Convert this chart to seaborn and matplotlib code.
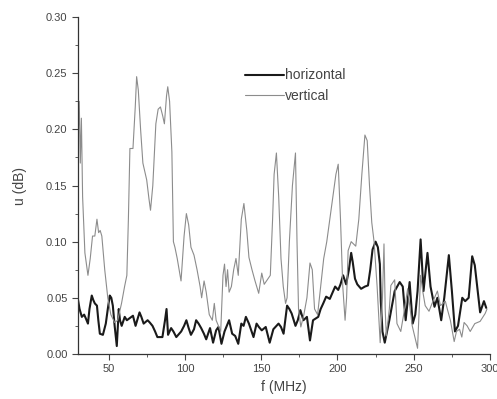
import matplotlib
matplotlib.use('Agg')
import matplotlib.pyplot as plt
from matplotlib.ticker import MultipleLocator, FormatStrFormatter
import seaborn as sns
import pandas as pd

# horizontal polarisation (black, thick)
freq_h = [30, 31, 32.5, 34, 35, 36.5, 37.5, 39, 40, 41, 42.4, 43.3, 44.3, 46.3, 48.2, 49.5,
          50.8, 51.8, 52.8, 54, 55.4, 56.7, 57.5, 58.6, 60.6, 62, 64, 66, 67.7, 70.3, 71.5,
          73, 75.6, 77, 78.8, 80.5, 82, 85.3, 87, 88, 89, 91, 92.5, 94.4, 97.6, 99.5, 101,
          102.5, 104, 106, 107.4, 109, 110.7, 112.5, 114, 116.5, 118.5, 120.5, 122, 124, 126,
          129, 131, 133, 135, 137, 138.5, 140, 142, 145, 147, 148.5, 150.4, 153, 155.6, 158,
          161.4, 163, 164.7, 167, 168.5, 170, 172.5, 174, 175.7, 177.7, 180, 182, 184, 187.4,
          189, 190.7, 192.6, 195, 198.5, 200.5, 202, 203.7, 205.7, 207.5, 209, 210, 211.5, 213,
          215.5, 218, 220, 221.5, 223, 225, 226.5, 227.8, 228.4, 229.5, 231, 232.5, 234, 236,
          237.5, 240.8, 242.8, 244.7, 247.3, 249.3, 251, 252.5, 254.5, 256.4, 259, 261, 263.6,
          265.5, 268, 270, 273, 275, 277, 279, 281.8, 283.7, 286, 288.3, 290, 293.5, 296, 297.5]
u_h = [0.048, 0.040, 0.033, 0.035, 0.032, 0.027, 0.040, 0.052, 0.048, 0.045, 0.043, 0.030,
       0.018, 0.017, 0.027, 0.040, 0.052, 0.050, 0.043, 0.025, 0.007, 0.040, 0.030, 0.025,
       0.033, 0.030, 0.032, 0.034, 0.025, 0.037, 0.033, 0.027, 0.030, 0.028, 0.025, 0.020,
       0.015, 0.015, 0.030, 0.040, 0.017, 0.023, 0.020, 0.015, 0.020, 0.025, 0.030, 0.023,
       0.017, 0.022, 0.030, 0.027, 0.023, 0.018, 0.013, 0.023, 0.010, 0.021, 0.024, 0.009,
       0.020, 0.030, 0.018, 0.016, 0.009, 0.027, 0.025, 0.033, 0.027, 0.015, 0.027, 0.024,
       0.021, 0.024, 0.010, 0.022, 0.027, 0.024, 0.018, 0.043, 0.040, 0.036, 0.025, 0.030,
       0.039, 0.030, 0.033, 0.012, 0.030, 0.033, 0.040, 0.045, 0.051, 0.049, 0.060, 0.057,
       0.062, 0.070, 0.062, 0.075, 0.090, 0.082, 0.067, 0.062, 0.058, 0.060, 0.061, 0.075,
       0.093, 0.100, 0.095, 0.080, 0.047, 0.020, 0.010, 0.020, 0.030, 0.045, 0.056, 0.064,
       0.060, 0.030, 0.064, 0.027, 0.035, 0.056, 0.102, 0.056, 0.090, 0.060, 0.042, 0.050,
       0.030, 0.050, 0.088, 0.056, 0.020, 0.025, 0.050, 0.047, 0.050, 0.087, 0.079, 0.037,
       0.047, 0.041]

# vertical polarisation (grey, thin)
freq_v = [30, 30.8, 31.5, 32.2, 33, 34.5, 36.5, 38, 39.5, 41, 42.4, 43.5, 44.5, 45.6, 47.5,
          49.5, 51.5, 54, 56, 58.5, 60.5, 62, 63, 64, 66, 67.5, 68.4, 69.5, 71, 72.5, 75,
          76.5, 77.5, 79, 81, 82.5, 84, 85.5, 86.6, 88, 88.8, 90, 91.5, 92.5, 93.5, 95, 97.5,
          99.5, 101, 102.5, 104, 106, 108, 110, 111, 112.6, 114, 116, 118, 119.3, 120.5, 122,
          123.5, 125, 126, 127, 128, 129, 130.5, 132, 133.5, 135, 137, 138.7, 140.6, 142, 144,
          146, 148.4, 150.4, 152, 153.5, 156, 157.5, 158.5, 160, 161.5, 163, 164.5, 166, 167,
          168.5, 170.5, 172.5, 173.5, 174.5, 176, 178, 180, 182, 183.5, 185, 187, 189, 191,
          193, 195, 197, 199, 200.5, 202, 203.5, 205, 206, 207, 209, 212, 214, 216, 218, 219.5,
          221, 222.5, 224, 226, 228, 229.5, 230.5, 231.3, 232, 234, 235, 237.5, 239, 241.5,
          244, 246, 249, 252.5, 254.5, 256, 257.5, 260, 262, 263.6, 265.5, 267.5, 270.7, 272,
          274, 276.5, 278, 280, 281.5, 283, 285, 287, 290, 293.5, 296.8, 298]
u_v = [0.190, 0.225, 0.170, 0.210, 0.140, 0.090, 0.070, 0.085, 0.105, 0.105, 0.120, 0.108,
       0.110, 0.105, 0.075, 0.050, 0.035, 0.028, 0.030, 0.045, 0.060, 0.070, 0.120, 0.183,
       0.183, 0.220, 0.247, 0.235, 0.200, 0.170, 0.155, 0.138, 0.128, 0.150, 0.205, 0.218,
       0.220, 0.212, 0.205, 0.230, 0.238, 0.225, 0.180, 0.100, 0.095, 0.085, 0.065, 0.105,
       0.125, 0.115, 0.095, 0.088, 0.075, 0.060, 0.050, 0.065, 0.055, 0.035, 0.030, 0.045,
       0.030, 0.025, 0.020, 0.070, 0.080, 0.060, 0.075, 0.055, 0.060, 0.075, 0.085, 0.070,
       0.120, 0.134, 0.110, 0.086, 0.075, 0.065, 0.054, 0.072, 0.062, 0.065, 0.070, 0.120,
       0.160, 0.179, 0.140, 0.085, 0.060, 0.045, 0.050, 0.100, 0.150, 0.179, 0.100, 0.040,
       0.024, 0.035, 0.050, 0.081, 0.075, 0.040, 0.035, 0.060, 0.085, 0.100, 0.120, 0.140,
       0.160, 0.169, 0.120, 0.060, 0.030, 0.050, 0.092, 0.100, 0.096, 0.120, 0.160, 0.195,
       0.190, 0.150, 0.117, 0.100, 0.060, 0.010, 0.050, 0.098, 0.040, 0.016, 0.040, 0.061,
       0.066, 0.027, 0.020, 0.040, 0.058, 0.025, 0.005, 0.070, 0.055, 0.043, 0.038, 0.045,
       0.050, 0.056, 0.043, 0.047, 0.040, 0.030, 0.011, 0.020, 0.022, 0.015, 0.028, 0.025,
       0.020, 0.027, 0.029, 0.036, 0.040]

df_h = pd.DataFrame({'f': freq_h, 'u': u_h})
df_v = pd.DataFrame({'f': freq_v, 'u': u_v})

sns.set_style('ticks')
plt.rcParams['font.family'] = ['Liberation Sans', 'DejaVu Sans']

fig = plt.figure(figsize=(4.97, 3.99), dpi=100)
ax = fig.add_axes([0.157, 0.113, 0.829, 0.844])

sns.lineplot(data=df_h, x='f', y='u', ax=ax, color='#1a1a1a', linewidth=1.5,
             estimator=None, sort=False, label='horizontal')
sns.lineplot(data=df_v, x='f', y='u', ax=ax, color='#8c8c8c', linewidth=0.8,
             estimator=None, sort=False, label='vertical')

ax.set_xlim(30, 300)
ax.set_ylim(0, 0.30)
ax.xaxis.set_major_locator(MultipleLocator(50))
ax.xaxis.set_minor_locator(MultipleLocator(25))
ax.yaxis.set_major_locator(MultipleLocator(0.05))
ax.yaxis.set_minor_locator(MultipleLocator(0.025))
ax.yaxis.set_major_formatter(FormatStrFormatter('%.2f'))
ax.tick_params(which='major', direction='out', length=4, width=0.8,
               labelsize=8, labelcolor='#444444', color='#444444')
ax.tick_params(which='minor', direction='out', length=2, width=0.6, color='#444444')
sns.despine(ax=ax)
for s in ['left', 'bottom']:
    ax.spines[s].set_color('#333333')
    ax.spines[s].set_linewidth(0.9)

ax.set_xlabel('f (MHz)', fontsize=10, color='#444444')
ax.set_ylabel('u (dB)', fontsize=10, color='#444444', labelpad=14)

ax.legend(loc='upper left', bbox_to_anchor=(0.375, 0.885), frameon=False, fontsize=10,
          handlelength=2.8, handletextpad=0.1, labelspacing=0.45, labelcolor='#444444')

fig.savefig('out.png', dpi=100)
